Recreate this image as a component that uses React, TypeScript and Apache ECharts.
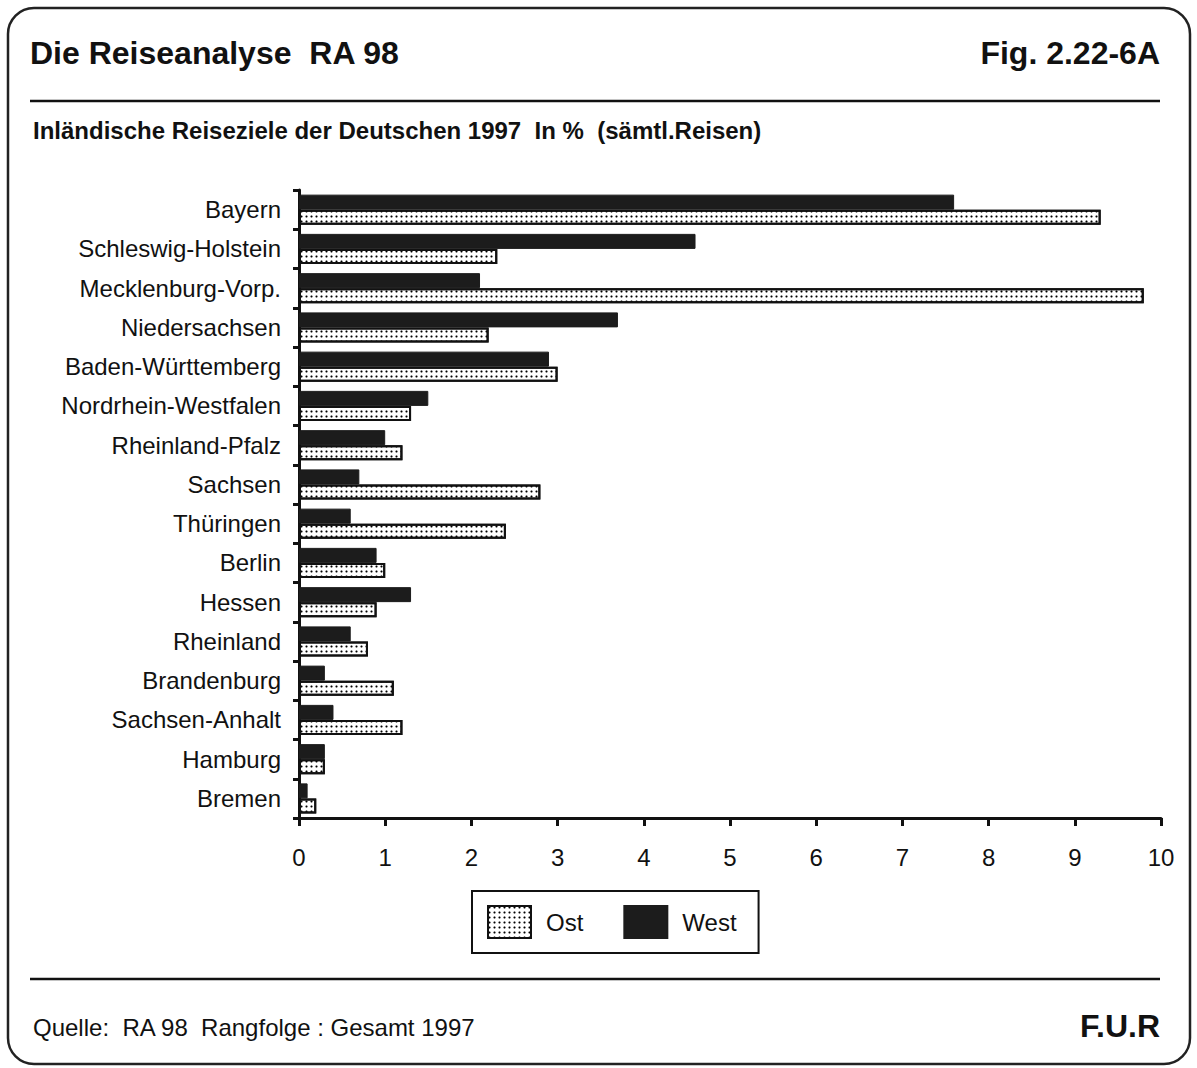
import React, { useEffect, useRef } from "react";
import * as echarts from "echarts";

const categories = [
  "Bayern",
  "Schleswig-Holstein",
  "Mecklenburg-Vorp.",
  "Niedersachsen",
  "Baden-Württemberg",
  "Nordrhein-Westfalen",
  "Rheinland-Pfalz",
  "Sachsen",
  "Thüringen",
  "Berlin",
  "Hessen",
  "Rheinland",
  "Brandenburg",
  "Sachsen-Anhalt",
  "Hamburg",
  "Bremen",
];
const westValues = [7.6, 4.6, 2.1, 3.7, 2.9, 1.5, 1.0, 0.7, 0.6, 0.9, 1.3, 0.6, 0.3, 0.4, 0.3, 0.1];
const ostValues = [9.3, 2.3, 9.8, 2.2, 3.0, 1.3, 1.2, 2.8, 2.4, 1.0, 0.9, 0.8, 1.1, 1.2, 0.3, 0.2];
const xTicks = [0, 1, 2, 3, 4, 5, 6, 7, 8, 9, 10];

const FONT = "'Liberation Sans', Arial, Helvetica, sans-serif";
const INK = "#111";

export default function App() {
  const ref = useRef<HTMLDivElement>(null);
  useEffect(() => {
    document.body.style.margin = "0";
    const chart = echarts.init(ref.current!, null, { renderer: "svg" });
    const ostDecal = {
      symbol: "circle",
      symbolSize: 0.7,
      color: "#000",
      backgroundColor: "#fff",
      dashArrayX: [3, 2],
      dashArrayY: [3, 2],
      rotation: 0,
    };
    chart.setOption({
      animation: false,
      backgroundColor: "#fff",
      textStyle: { fontFamily: FONT, color: INK },
      grid: { left: 299, top: 190, width: 862, height: 628, containLabel: false },
      xAxis: {
        type: "value",
        min: 0,
        max: 10,
        interval: 1,
        axisLine: { show: true, lineStyle: { color: INK, width: 3 } },
        axisTick: { show: true, length: 8, lineStyle: { color: INK, width: 3 } },
        axisLabel: {
          margin: 27,
          fontSize: 24,
          color: INK,
          fontFamily: FONT,
          formatter: (v: number) => (xTicks.includes(v) ? String(v) : ""),
        },
        splitLine: { show: false },
      },
      yAxis: {
        type: "category",
        data: categories,
        inverse: true,
        axisLine: { show: true, lineStyle: { color: INK, width: 3 } },
        axisTick: { show: true, length: 6, lineStyle: { color: INK, width: 3 } },
        axisLabel: { margin: 18, fontSize: 24, color: INK, fontFamily: FONT },
      },
      legend: {
        data: ["Ost", "West"],
        left: 472,
        top: 891,
        orient: "horizontal",
        icon: "rect",
        itemWidth: 43,
        itemHeight: 32,
        itemGap: 40,
        padding: [14, 22, 14, 15],
        borderColor: INK,
        borderWidth: 2,
        borderRadius: 0,
        textStyle: { fontSize: 24, color: INK, fontFamily: FONT, padding: [0, 0, 0, 10] },
        selectedMode: false,
      },
      series: [
        {
          name: "West",
          type: "bar",
          data: westValues,
          barWidth: 15,
          barGap: "0%",
          itemStyle: { color: "#1c1c1c", borderColor: "#1c1c1c", borderWidth: 1 },
        },
        {
          name: "Ost",
          type: "bar",
          data: ostValues,
          barWidth: 15,
          barGap: "0%",
          itemStyle: { color: "#fff", borderColor: "#111", borderWidth: 2, decal: ostDecal },
        },
      ],
      graphic: [
        {
          type: "rect",
          shape: { x: 8, y: 8, width: 1182, height: 1056, r: 26 },
          style: { fill: "none", stroke: "#222", lineWidth: 2.5 },
          silent: true,
        },
        {
          type: "text",
          x: 30,
          y: 53,
          style: { text: "Die Reiseanalyse  RA 98", font: `bold 32px ${FONT}`, fill: INK, verticalAlign: "middle" },
        },
        {
          type: "text",
          x: 1160,
          y: 53,
          style: { text: "Fig. 2.22-6A", font: `bold 32px ${FONT}`, fill: INK, align: "right", verticalAlign: "middle" },
        },
        {
          type: "line",
          shape: { x1: 30, y1: 101, x2: 1160, y2: 101 },
          style: { stroke: INK, lineWidth: 2.5 },
        },
        {
          type: "text",
          x: 33,
          y: 130,
          style: {
            text: "Inländische Reiseziele der Deutschen 1997  In %  (sämtl.Reisen)",
            font: `bold 24px ${FONT}`,
            fill: INK,
            verticalAlign: "middle",
          },
        },
        {
          type: "line",
          shape: { x1: 30, y1: 979, x2: 1160, y2: 979 },
          style: { stroke: INK, lineWidth: 2.5 },
        },
        {
          type: "text",
          x: 33,
          y: 1027,
          style: {
            text: "Quelle:  RA 98  Rangfolge : Gesamt 1997",
            font: `24px ${FONT}`,
            fill: INK,
            verticalAlign: "middle",
          },
        },
        {
          type: "text",
          x: 1160,
          y: 1026,
          style: { text: "F.U.R", font: `bold 32px ${FONT}`, fill: INK, align: "right", verticalAlign: "middle" },
        },
      ],
    });
    return () => chart.dispose();
  }, []);
  return <div ref={ref} style={{ width: 1197, height: 1068 }} />;
}
